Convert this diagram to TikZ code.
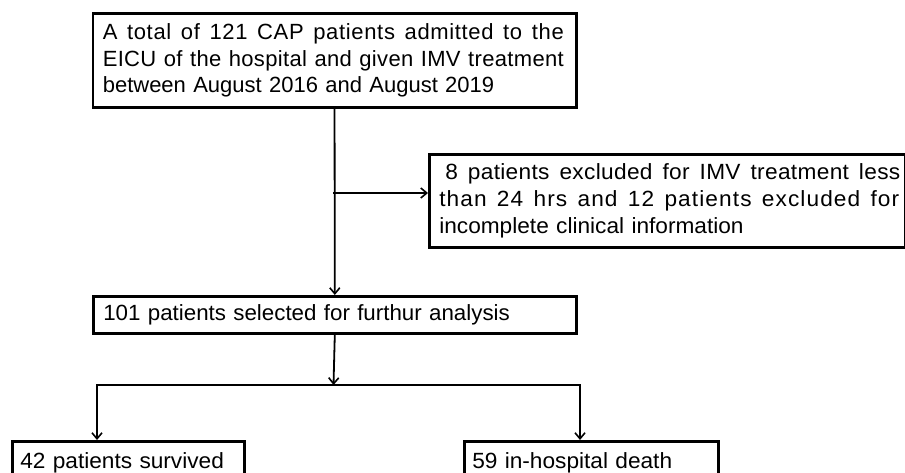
\documentclass[tikz,border=0pt]{standalone}
\usepackage{fontspec}
\setmainfont{Liberation Sans}[FakeStretch=1.03]
\newfontfamily\topfont{Liberation Sans}
\newfontfamily\midfont{Liberation Sans}[FakeStretch=1.015]
\usetikzlibrary{arrows.meta}
\newcommand\jline[3]{\makebox[#1][s]{\addfontfeature{LetterSpace=#2}\spaceskip=0.278em plus 1fil\relax #3}}
\tikzset{
  box/.style={draw, line width=2.6pt, anchor=north west, inner xsep=10pt, inner ysep=0pt,
    align=left, font={\fontsize{22}{26.6}\selectfont}},
  arr/.style={line width=1.8pt, -{Straight Barb[length=6pt,width=10pt,line width=1.6pt]}}
}
\begin{document}
\begin{tikzpicture}[x=1pt,y=-1pt]
\useasboundingbox (0,0) rectangle (905,473);
\node[box, text width=463.5pt, minimum height=93.5pt, font={\topfont\fontsize{22}{26.7}\selectfont}] (top) at (91.5,12.5)
  {\jline{461pt}{3}{A total of 121 CAP patients admitted to the}\\
   \jline{461pt}{1.5}{EICU of the hospital and given IMV treatment}\\
   between August 2016 and August 2019};
\node[box, text width=455.5pt, minimum height=93pt] (excl) at (428,153)
  {\jline{461pt}{1.5}{\hspace{6pt}8 patients excluded for IMV treatment less}\\
   \jline{460pt}{5}{than 24 hrs and 12 patients excluded for}\\
   incomplete clinical information};
\node[box, text width=463pt, minimum height=37pt, font={\midfont\fontsize{22}{26.6}\selectfont}] (mid) at (92,295)
  {101 patients selected for furthur analysis};
\node[box, text width=216pt, inner xsep=8pt, minimum height=44pt] (surv) at (11,440)
  {42 patients survived};
\node[box, text width=238pt, inner xsep=8pt, minimum height=44pt] (death) at (463,440)
  {59 in-hospital death};
\coordinate (br) at (333.3,193);
\coordinate (split) at (333.5,385);
\coordinate (sl) at (97,385);
\coordinate (sr) at (580,385);
\draw[arr] (top.south) -- (mid.north);
\draw[arr] (br) -- (excl.west |- br);
\draw[arr] (mid.south) -- (split);
\draw[arr] (split) -- (sl) -- (sl |- surv.north);
\draw[arr] (split) -- (sr) -- (sr |- death.north);
\end{tikzpicture}
\end{document}
